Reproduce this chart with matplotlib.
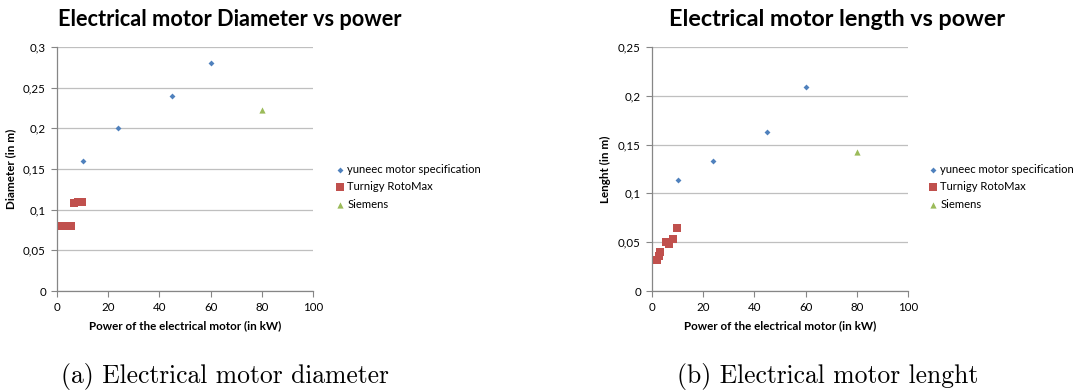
import matplotlib
matplotlib.use("Agg")
import matplotlib.pyplot as plt
from matplotlib.ticker import FuncFormatter, MultipleLocator

# --- data -------------------------------------------------------------
yuneec_power = [10, 24, 45, 60]
yuneec_diameter = [0.16, 0.20, 0.24, 0.28]
yuneec_length = [0.114, 0.133, 0.163, 0.209]

turnigy_power = [1.8, 2.6, 3.0, 5.3, 6.5, 8.1, 9.6]
turnigy_diameter = [0.08, 0.08, 0.08, 0.08, 0.108, 0.11, 0.11]
turnigy_length = [0.032, 0.036, 0.040, 0.050, 0.048, 0.053, 0.065]

siemens_power = [80]
siemens_diameter = [0.222]
siemens_length = [0.142]

series_names = ["yuneec motor specification", "Turnigy RotoMax", "Siemens"]

titles = ["Electrical motor Diameter vs power", "Electrical motor length vs power"]
y_labels = ["Diameter (in m)", "Lenght (in m)"]
x_label = "Power of the electrical motor (in kW)"
captions = ["(a) Electrical motor diameter", "(b) Electrical motor lenght"]

# --- styling ----------------------------------------------------------
BLUE = "#4F81BD"
RED = "#C0504D"
GREEN = "#9BBB59"
GRID = "#BFBFBF"
AXIS = "#868686"
UI_FONT = ["Lato", "DejaVu Sans"]
LABEL_SIZE = 8.4

W, H = 1081, 390
fig = plt.figure(figsize=(W / 100, H / 100), dpi=100)


def px_axes(left, top, right, bottom):
    return fig.add_axes([left / W, 1 - bottom / H, (right - left) / W, (bottom - top) / H])


def comma(v, _pos):
    if abs(v) < 1e-9:
        return "0"
    s = f"{v:.2f}".rstrip("0").rstrip(".")
    return s.replace(".", ",")


def draw_panel(ax, ys, ymax, ystep):
    y_yun, y_tur, y_sie = ys
    ax.scatter(yuneec_power, y_yun, marker="D", s=9, color=BLUE, zorder=3,
               label=series_names[0], linewidths=0)
    ax.scatter(turnigy_power, y_tur, marker="s", s=26, color=RED, zorder=3,
               label=series_names[1], linewidths=0)
    ax.scatter(siemens_power, y_sie, marker="^", s=20, color=GREEN, zorder=3,
               label=series_names[2], linewidths=0)
    ax.set_xlim(0, 100)
    ax.set_ylim(0, ymax)
    ax.xaxis.set_major_locator(MultipleLocator(20))
    ax.yaxis.set_major_locator(MultipleLocator(ystep))
    ax.yaxis.set_major_formatter(FuncFormatter(comma))
    ax.grid(axis="y", color=GRID, linewidth=0.9)
    ax.set_axisbelow(True)
    for side in ("top", "right"):
        ax.spines[side].set_visible(False)
    for side in ("left", "bottom"):
        ax.spines[side].set_color(AXIS)
        ax.spines[side].set_linewidth(0.9)
    ax.tick_params(colors=AXIS, length=4, width=0.8, direction="out",
                   labelcolor="black", labelsize=8.3, pad=4)
    for lab in ax.get_xticklabels() + ax.get_yticklabels():
        lab.set_family(UI_FONT)
    ax.set_xlabel(x_label, fontsize=LABEL_SIZE, fontweight="bold", family=UI_FONT, labelpad=5)


ax1 = px_axes(57, 47, 313, 291)
draw_panel(ax1, (yuneec_diameter, turnigy_diameter, siemens_diameter), 0.3, 0.05)
ax1.set_ylabel(y_labels[0], fontsize=LABEL_SIZE, fontweight="bold", family=UI_FONT, labelpad=5)

ax2 = px_axes(652, 47, 908, 291)
draw_panel(ax2, (yuneec_length, turnigy_length, siemens_length), 0.25, 0.05)
ax2.set_ylabel(y_labels[1], fontsize=LABEL_SIZE, fontweight="bold", family=UI_FONT, labelpad=5)

# chart titles
fig.text(58 / W, 1 - 20 / H, titles[0], fontsize=15.7, fontweight="bold",
         family=UI_FONT, ha="left", va="center")
fig.text(669 / W, 1 - 20 / H, titles[1], fontsize=16.8, fontweight="bold",
         family=UI_FONT, ha="left", va="center")

# legends beside each plot area
for ax, x0 in ((ax1, 331), (ax2, 924)):
    ax.legend(loc="upper left",
              bbox_to_anchor=((x0 - ax.get_position().x0 * W) / 256, 1 - (158 - 47) / 244),
              frameon=False, handlelength=0.6, handletextpad=0.35,
              labelspacing=0.6, borderpad=0, prop={"family": UI_FONT, "size": 8.1})

# sub-figure captions
fig.text((62 + 387) / 2 / W, 1 - 377 / H, captions[0], fontsize=18.4, family="cmr10",
         ha="center", va="center")
fig.text((672 + 983) / 2 / W, 1 - 377 / H, captions[1], fontsize=18.4, family="cmr10",
         ha="center", va="center")

fig.savefig("out.png", dpi=100)
